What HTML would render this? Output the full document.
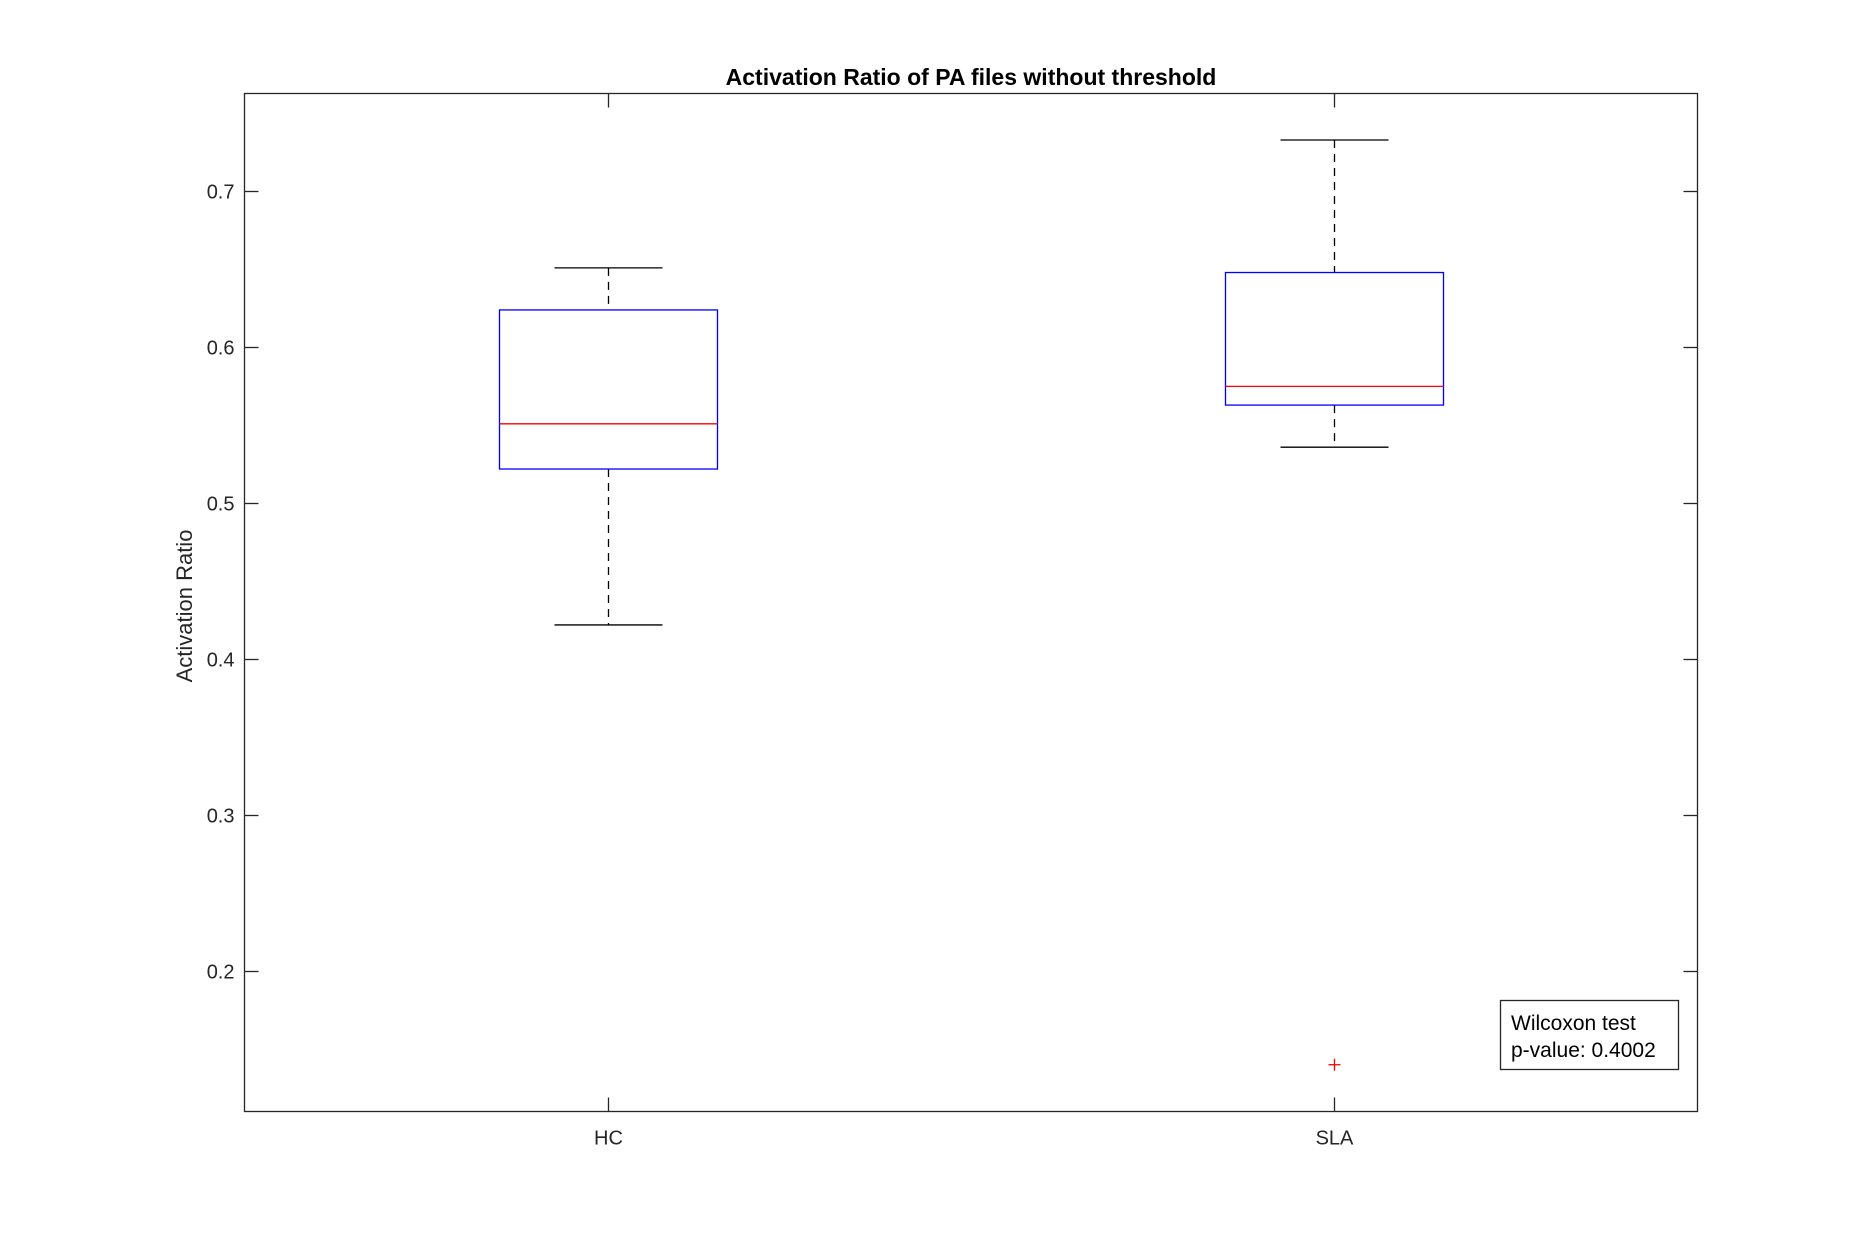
<!DOCTYPE html>
<html><head><meta charset="utf-8"><style>
html,body{margin:0;padding:0;background:#fff;}
svg text{font-family:"Liberation Sans",Arial,sans-serif;fill:#262626;}
</style></head><body>
<svg id="chart" width="1875" height="1250" xmlns="http://www.w3.org/2000/svg">
<rect width="1875" height="1250" fill="#fff"/>
<text x="971" y="85" text-anchor="middle" font-size="23" font-weight="bold" style="fill:#000">Activation Ratio of PA files without threshold</text>
<text transform="translate(192,606) rotate(-90)" text-anchor="middle" font-size="22">Activation Ratio</text>
<g id="plot"></g>
<rect x="244.5" y="93.5" width="1453" height="1018" fill="none" stroke="#262626" stroke-width="1.3"/>
<g>
<rect x="1500.5" y="1000.5" width="178" height="69" fill="#fff" stroke="#262626" stroke-width="1.3"/>
<text x="1511" y="1030" font-size="21" style="fill:#000">Wilcoxon test</text>
<text x="1511" y="1057" font-size="21" style="fill:#000">p-value: 0.4002</text>
</g>
</svg>
<script>
const categories = ["HC", "SLA"];
const whiskerHigh = [0.651, 0.733];
const q3 = [0.624, 0.648];
const median = [0.551, 0.575];
const q1 = [0.522, 0.563];
const whiskerLow = [0.422, 0.536];
const outliers = [[], [0.140]];
const yTicks = [0.2, 0.3, 0.4, 0.5, 0.6, 0.7];
const yTickLabels = ["0.2", "0.3", "0.4", "0.5", "0.6", "0.7"];

const L=244.5,R=1697.5,T=93.5,B=1111.5;
const yMin=0.110,yMax=0.7628;
function y(v){return B-(v-yMin)/(yMax-yMin)*(B-T);}
function x(i){return L+(i+0.5)/categories.length*(R-L);}
const g=document.getElementById('plot');
const NS='http://www.w3.org/2000/svg';
function line(x1,y1,x2,y2,stroke,dash,name){
  const l=document.createElementNS(NS,'line');
  l.setAttribute('x1',x1);l.setAttribute('y1',y1);l.setAttribute('x2',x2);l.setAttribute('y2',y2);
  l.setAttribute('stroke',stroke);l.setAttribute('stroke-width','1.3');
  if(dash)l.setAttribute('stroke-dasharray',dash);
  
  
  g.appendChild(l);return l;
}
function text(tx,ty,s,anchor,name){
  const t=document.createElementNS(NS,'text');
  t.setAttribute('x',tx);t.setAttribute('y',ty);t.setAttribute('text-anchor',anchor);t.setAttribute('font-size','20');
  t.textContent=s;
  
  
  g.appendChild(t);
}
yTicks.forEach((v,i)=>{
  const yy=Math.round(y(v))+0.5;
  line(L,yy,L+14,yy,'#262626',null,'y-tick');
  line(R-14,yy,R,yy,'#262626',null,'y-tick-right');
  text(L-10,yy+7,yTickLabels[i],'end','y-tick-label');
});
categories.forEach((c,i)=>{
  const cx=Math.round(x(i))+0.5;
  line(cx,T,cx,T+14,'#262626',null,'x-tick-top');
  line(cx,B-14,cx,B,'#262626',null,'x-tick');
  text(cx,B+33,c,'middle','x-tick-label');
  const hw=109,cw=54;
  line(cx,y(whiskerHigh[i]),cx,y(q3[i]),'#000','8,6','upper-whisker');
  line(cx,y(q1[i]),cx,y(whiskerLow[i]),'#000','8,6','lower-whisker');
  line(cx-cw,y(whiskerHigh[i]),cx+cw,y(whiskerHigh[i]),'#000',null,'upper-cap');
  line(cx-cw,y(whiskerLow[i]),cx+cw,y(whiskerLow[i]),'#000',null,'lower-cap');
  const r=document.createElementNS(NS,'rect');
  r.setAttribute('x',cx-hw);r.setAttribute('y',y(q3[i]));r.setAttribute('width',2*hw);r.setAttribute('height',y(q1[i])-y(q3[i]));
  r.setAttribute('fill','none');r.setAttribute('stroke','#0000ff');r.setAttribute('stroke-width','1.3');
  
  
  g.appendChild(r);
  line(cx-hw,y(median[i]),cx+hw,y(median[i]),'#ff0000',null,'median-line');
  outliers[i].forEach(o=>{
    const oy=y(o);
    line(cx-6,oy,cx+6,oy,'#ff0000',null,'outlier-marker');
    line(cx,oy-6,cx,oy+6,'#ff0000',null,'outlier-marker-v');
  });
});
</script>
</body></html>
